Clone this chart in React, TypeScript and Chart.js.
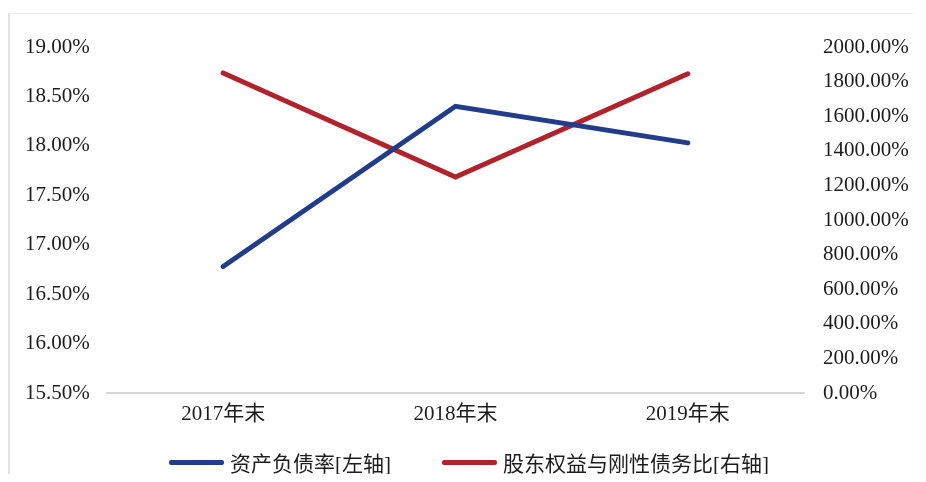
import React, { useEffect, useRef } from "react";
import { Chart, registerables } from "chart.js";

Chart.register(...registerables);

// ---- Data ----
const categories = ["2017年末", "2018年末", "2019年末"];
const debtRatio = [16.78, 18.4, 18.03]; // 资产负债率 (%), left axis
const equityToRigidDebt = [1850, 1248, 1845]; // 股东权益与刚性债务比 (%), right axis
const seriesNames = ["资产负债率[左轴]", "股东权益与刚性债务比[右轴]"];
const seriesColors = ["#203C8A", "#B1232B"];
const leftAxis = { min: 15.5, max: 19, step: 0.5 };
const rightAxis = { min: 0, max: 2000, step: 200 };

const FONT = "'Liberation Serif', 'Times New Roman', 'Noto Sans CJK SC', serif";
const TEXT = "#1c1c1c";

export default function App() {
  const ref = useRef<HTMLCanvasElement | null>(null);

  useEffect(() => {
    if (!ref.current) return;
    const fmt = (v: any) => Number(v).toFixed(2) + "%";
    const chart = new Chart(ref.current, {
      type: "line",
      data: {
        labels: categories,
        datasets: [
          {
            label: seriesNames[0],
            data: debtRatio,
            yAxisID: "y",
            borderColor: seriesColors[0],
            backgroundColor: seriesColors[0],
            borderWidth: 5,
            pointRadius: 0,
            tension: 0,
            borderCapStyle: "round",
          },
          {
            label: seriesNames[1],
            data: equityToRigidDebt,
            yAxisID: "y1",
            borderColor: seriesColors[1],
            backgroundColor: seriesColors[1],
            borderWidth: 5,
            pointRadius: 0,
            tension: 0,
            borderCapStyle: "round",
          },
        ],
      },
      options: {
        responsive: false,
        maintainAspectRatio: false,
        animation: false,
        layout: { padding: { left: 17, top: 39, right: 0, bottom: 41 } },
        plugins: { legend: { display: false }, tooltip: { enabled: false } },
        scales: {
          x: {
            type: "category",
            offset: true,
            grid: { display: false, drawTicks: false },
            border: { display: true, color: "#d6d6d6", width: 2 },
            ticks: { padding: 9, color: TEXT, font: { family: FONT, size: 21 } },
            afterFit: (s: any) => {
              s.height = 40;
            },
          },
          y: {
            type: "linear",
            position: "left",
            min: leftAxis.min,
            max: leftAxis.max,
            grid: { display: false, drawTicks: false },
            border: { display: false },
            ticks: {
              stepSize: leftAxis.step,
              callback: fmt,
              crossAlign: "far",
              padding: 0,
              color: TEXT,
              font: { family: FONT, size: 21 },
            },
            afterFit: (s: any) => {
              s.width = 82;
            },
          },
          y1: {
            type: "linear",
            position: "right",
            min: rightAxis.min,
            max: rightAxis.max,
            grid: { display: false, drawTicks: false },
            border: { display: false },
            ticks: {
              stepSize: rightAxis.step,
              callback: fmt,
              padding: 19,
              color: TEXT,
              font: { family: FONT, size: 21 },
            },
            afterFit: (s: any) => {
              s.width = 114;
            },
          },
        },
      },
    } as any);
    return () => chart.destroy();
  }, []);

  return (
    <div style={{ position: "relative", width: 910, height: 466, background: "#fff" }}>
      <div
        style={{
          position: "absolute",
          left: 0,
          top: 5,
          width: 905,
          height: 461,
          borderLeft: "2px solid #e2e2e2",
          borderTop: "1px solid #ececec",
          boxSizing: "border-box",
        }}
      />
      <canvas ref={ref} width={910} height={466} style={{ position: "absolute", left: 0, top: 0 }} />
      <div
        style={{
          position: "absolute",
          left: 161,
          top: 442,
          height: 24,
          display: "flex",
          alignItems: "center",
          fontFamily: FONT,
          fontSize: 21,
          color: TEXT,
          whiteSpace: "nowrap",
        }}
      >
        {seriesNames.map((name, i) => (
          <div key={name} style={{ display: "flex", alignItems: "center", marginLeft: i === 0 ? 0 : 51 }}>
            <span style={{ display: "inline-block", width: 55, height: 5, background: seriesColors[i], borderRadius: 2 }} />
            <span style={{ marginLeft: 6 }}>{name}</span>
          </div>
        ))}
      </div>
    </div>
  );
}
